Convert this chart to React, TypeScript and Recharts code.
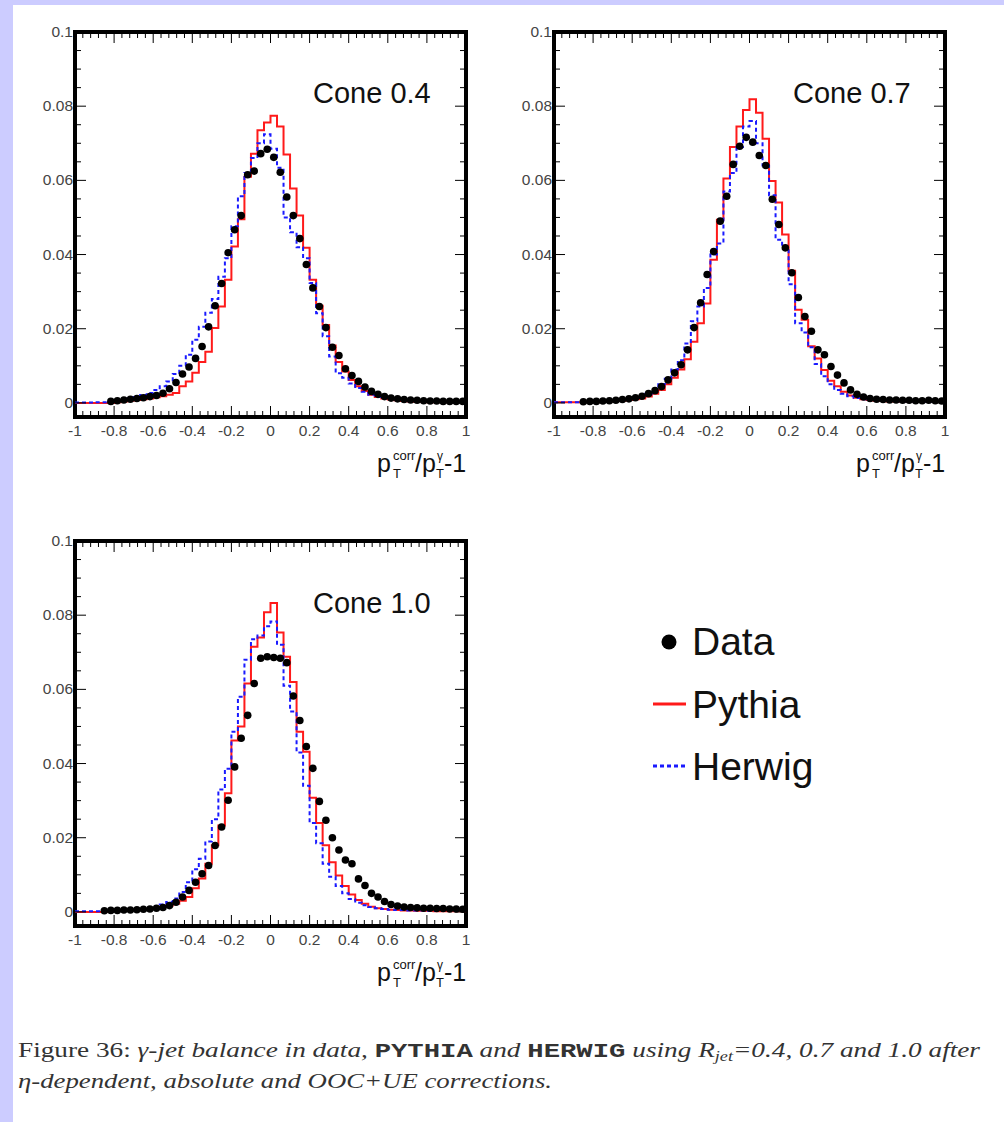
import React from 'react';
import { ComposedChart, Line, Scatter, XAxis, YAxis, ReferenceArea } from 'recharts';

// ---- binning: 60 bins between -1 and 1 ----
const X_MIN = -1;
const X_MAX = 1;
const N_BINS = 60;
const Y_MIN = -0.0038;
const Y_MAX = 0.1;

// tick labels
const X_MAJOR = [-1, -0.8, -0.6, -0.4, -0.2, 0, 0.2, 0.4, 0.6, 0.8, 1];
const X_LABELS = ['-1', '-0.8', '-0.6', '-0.4', '-0.2', '0', '0.2', '0.4', '0.6', '0.8', '1'];
const Y_MAJOR = [0, 0.02, 0.04, 0.06, 0.08, 0.1];
const Y_LABELS = ['0', '0.02', '0.04', '0.06', '0.08', '0.1'];
const X_MINOR_STEP = 0.04;
const Y_MINOR_STEP = 0.005;

const CONES = ['Cone 0.4', 'Cone 0.7', 'Cone 1.0'];

// ---- Cone 0.4 ----
const DATA_04 = [null, null, null, null, null,
  0.0004, 0.0006, 0.0008, 0.0010, 0.0012,
  0.0014, 0.0017, 0.0020, 0.0026, 0.0038,
  0.0055, 0.0078, 0.0097, 0.0120, 0.0152,
  0.0205, 0.0262, 0.0322, 0.0405, 0.0467,
  0.0505, 0.0615, 0.0625, 0.0672, 0.0684,
  0.0662, 0.0622, 0.0555, 0.0505, 0.0443,
  0.0373, 0.0310, 0.0260, 0.0203, 0.0150,
  0.0128, 0.0092, 0.0074, 0.0058, 0.0043,
  0.0031, 0.0023, 0.0017, 0.0013, 0.0011,
  0.0009, 0.0008, 0.0007, 0.0006, 0.0005,
  0.0005, 0.0004, 0.0004, 0.0004, 0.0004];
const PYTHIA_04 = [0, 0, 0, 0, 0, 0,
  0.0002, 0.0004, 0.0006, 0.0008,
  0.0010, 0.0012, 0.0015, 0.0018, 0.0022,
  0.0027, 0.0045, 0.0058, 0.0081, 0.0110,
  0.0138, 0.0202, 0.0260, 0.0332, 0.0422,
  0.0495, 0.0610, 0.0672, 0.0735, 0.0756,
  0.0774, 0.0745, 0.0670, 0.0578, 0.0505,
  0.0418, 0.0332, 0.0262, 0.0210, 0.0155,
  0.0110, 0.0085, 0.0062, 0.0045, 0.0032,
  0.0022, 0.0016, 0.0012, 0.0009, 0.0007,
  0.0005, 0.0004, 0.0003, 0.0003, 0.0002,
  0.0002, 0.0002, 0.0002, 0.0002, 0.0002];
const HERWIG_04 = [0.0001, 0.0001, 0.0001, 0.0002, 0.0002,
  0.0004, 0.0006, 0.0009, 0.0012, 0.0016,
  0.0021, 0.0027, 0.0035, 0.0045, 0.0058,
  0.0078, 0.0100, 0.0130, 0.0170, 0.0205,
  0.0243, 0.0280, 0.0340, 0.0390, 0.0476,
  0.0557, 0.0620, 0.0660, 0.0700, 0.0724,
  0.0685, 0.0634, 0.0500, 0.0460, 0.0420,
  0.0390, 0.0323, 0.0242, 0.0180, 0.0125,
  0.0080, 0.0068, 0.0052, 0.0040, 0.0030,
  0.0022, 0.0016, 0.0012, 0.0009, 0.0007,
  0.0005, 0.0004, 0.0004, 0.0003, 0.0003,
  0.0003, 0.0002, 0.0002, 0.0002, 0.0002];

// ---- Cone 0.7 ----
const DATA_07 = [null, null, null, null, 0.0003,
  0.0004, 0.0004, 0.0005, 0.0006, 0.0007,
  0.0009, 0.0011, 0.0014, 0.0018, 0.0025,
  0.0033, 0.0044, 0.0062, 0.0081, 0.0103,
  0.0143, 0.0203, 0.0270, 0.0346, 0.0408,
  0.0490, 0.0557, 0.0643, 0.0692, 0.0716,
  0.0703, 0.0667, 0.0640, 0.0549, 0.0481,
  0.0418, 0.0351, 0.0284, 0.0233, 0.0193,
  0.0143, 0.0130, 0.0098, 0.0075, 0.0054,
  0.0035, 0.0023, 0.0016, 0.0012, 0.0010,
  0.0009, 0.0008, 0.0008, 0.0007, 0.0007,
  0.0006, 0.0006, 0.0007, 0.0006, 0.0005];
const PYTHIA_07 = [0.0002, 0.0002, 0.0002, 0.0002, 0.0002,
  0.0002, 0.0002, 0.0003, 0.0004, 0.0005,
  0.0006, 0.0008, 0.0010, 0.0012, 0.0017,
  0.0025, 0.0035, 0.0050, 0.0068, 0.0090,
  0.0118, 0.0165, 0.0215, 0.0268, 0.0386,
  0.0494, 0.0605, 0.0690, 0.0745, 0.0790,
  0.0819, 0.0782, 0.0712, 0.0598, 0.0540,
  0.0454, 0.0356, 0.0251, 0.0224, 0.0153,
  0.0120, 0.0089, 0.0060, 0.0045, 0.0030,
  0.0020, 0.0014, 0.0010, 0.0008, 0.0006,
  0.0005, 0.0004, 0.0004, 0.0003, 0.0003,
  0.0003, 0.0003, 0.0003, 0.0003, 0.0003];
const HERWIG_07 = [0.0002, 0.0002, 0.0002, 0.0002, 0.0002,
  0.0003, 0.0003, 0.0004, 0.0005, 0.0007,
  0.0009, 0.0011, 0.0014, 0.0018, 0.0025,
  0.0035, 0.0050, 0.0065, 0.0090, 0.0115,
  0.0160, 0.0220, 0.0260, 0.0310, 0.0400,
  0.0430, 0.0570, 0.0620, 0.0690, 0.0745,
  0.0760, 0.0700, 0.0640, 0.0560, 0.0440,
  0.0420, 0.0320, 0.0215, 0.0190, 0.0150,
  0.0105, 0.0072, 0.0050, 0.0035, 0.0025,
  0.0018, 0.0013, 0.0010, 0.0008, 0.0007,
  0.0006, 0.0005, 0.0005, 0.0004, 0.0004,
  0.0004, 0.0003, 0.0003, 0.0003, 0.0003];

// ---- Cone 1.0 ----
const DATA_10 = [null, null, null, null, 0.0003,
  0.0004, 0.0004, 0.0005, 0.0005, 0.0006,
  0.0007, 0.0008, 0.0010, 0.0012, 0.0017,
  0.0026, 0.0040, 0.0058, 0.0080, 0.0103,
  0.0125, 0.0179, 0.0229, 0.0301, 0.0391,
  0.0468, 0.0530, 0.0616, 0.0684, 0.0688,
  0.0686, 0.0684, 0.0672, 0.0582, 0.0516,
  0.0446, 0.0387, 0.0298, 0.0247, 0.0200,
  0.0167, 0.0140, 0.0130, 0.0089, 0.0071,
  0.0050, 0.0040, 0.0028, 0.0020, 0.0016,
  0.0013, 0.0012, 0.0011, 0.0010, 0.0010,
  0.0009, 0.0009, 0.0008, 0.0008, 0.0007];
const PYTHIA_10 = [0, 0, 0, 0, 0,
  0.0002, 0.0003, 0.0004, 0.0005, 0.0006,
  0.0007, 0.0008, 0.0010, 0.0013, 0.0017,
  0.0022, 0.0030, 0.0040, 0.0064, 0.0090,
  0.0130, 0.0180, 0.0233, 0.0320, 0.0462,
  0.0500, 0.0616, 0.0715, 0.0740, 0.0808,
  0.0833, 0.0753, 0.0688, 0.0620, 0.0486,
  0.0432, 0.0308, 0.0240, 0.0180, 0.0134,
  0.0098, 0.0070, 0.0047, 0.0032, 0.0022,
  0.0014, 0.0010, 0.0008, 0.0006, 0.0005,
  0.0004, 0.0004, 0.0003, 0.0003, 0.0003,
  0.0002, 0.0002, 0.0002, 0.0002, 0.0002];
const HERWIG_10 = [0.0002, 0.0002, 0.0002, 0.0002, 0.0002,
  0.0002, 0.0003, 0.0004, 0.0005, 0.0006,
  0.0008, 0.0011, 0.0015, 0.0020, 0.0027,
  0.0036, 0.0054, 0.0080, 0.0115, 0.0143,
  0.0190, 0.0250, 0.0330, 0.0386, 0.0486,
  0.0580, 0.0680, 0.0735, 0.0745, 0.0770,
  0.0783, 0.0720, 0.0610, 0.0540, 0.0430,
  0.0340, 0.0240, 0.0185, 0.0130, 0.0095,
  0.0070, 0.0050, 0.0035, 0.0025, 0.0018,
  0.0013, 0.0010, 0.0008, 0.0006, 0.0005,
  0.0005, 0.0004, 0.0004, 0.0004, 0.0003,
  0.0003, 0.0003, 0.0003, 0.0003, 0.0003];

// ---- helpers (build library tables from the arrays) ----
const BIN_W = (X_MAX - X_MIN) / N_BINS;
const histTable = (vals: number[]) => {
  const rows = vals.map((v, i) => ({ x: X_MIN + i * BIN_W, y: v }));
  rows.push({ x: X_MAX, y: vals[vals.length - 1] });
  return rows;
};
const pointTable = (vals: (number | null)[]) =>
  vals
    .map((v, i) => ({ x: X_MIN + (i + 0.5) * BIN_W, y: v }))
    .filter((r) => r.y !== null);

const X_TICKS: number[] = [];
for (let i = 0; i <= Math.round((X_MAX - X_MIN) / X_MINOR_STEP); i++) X_TICKS.push(X_MIN + i * X_MINOR_STEP);
const Y_TICKS: number[] = [];
for (let i = 0; i <= Math.round(Y_MAX / Y_MINOR_STEP); i++) Y_TICKS.push(i * Y_MINOR_STEP);

const SANS = 'Liberation Sans, Arial, Helvetica, sans-serif';
const CHART_W = 480;
const CHART_H = 490;
const AXIS_T = 1; // axis band thickness (axes with 0 size are not drawn)
const MARGIN = { top: 32, left: 75 - AXIS_T, right: 14, bottom: 73 - AXIS_T };
const PLOT_W = CHART_W - MARGIN.left - AXIS_T - MARGIN.right;
const PLOT_H = CHART_H - MARGIN.top - MARGIN.bottom - AXIS_T;

const XTick = (props: any) => {
  const { x, y, payload } = props;
  const idx = X_MAJOR.findIndex((m) => Math.abs(m - payload.value) < 1e-6);
  const major = idx >= 0;
  const len = major ? 11 : 6;
  return (
    <g>
      <line x1={x} x2={x} y1={y} y2={y - len} stroke="#000" strokeWidth={1} />
      <line x1={x} x2={x} y1={y - PLOT_H} y2={y - PLOT_H + len} stroke="#000" strokeWidth={1} />
      {major && (
        <text x={x} y={y + 19} textAnchor="middle" fontSize={15.5} fill="#444" fontFamily={SANS}>
          {X_LABELS[idx]}
        </text>
      )}
    </g>
  );
};

const YTick = (props: any) => {
  const { x, y, payload } = props;
  const idx = Y_MAJOR.findIndex((m) => Math.abs(m - payload.value) < 1e-7);
  const major = idx >= 0;
  const len = major ? 11 : 6;
  return (
    <g>
      <line x1={x} x2={x + len} y1={y} y2={y} stroke="#000" strokeWidth={1} />
      <line x1={x + PLOT_W} x2={x + PLOT_W - len} y1={y} y2={y} stroke="#000" strokeWidth={1} />
      {major && (
        <text x={x - 2} y={y + 5} textAnchor="end" fontSize={15.5} fill="#444" fontFamily={SANS}>
          {Y_LABELS[idx]}
        </text>
      )}
    </g>
  );
};

const Dot = (props: any) => <circle cx={props.cx} cy={props.cy} r={3.8} fill="#000" />;

type PanelProps = { left: number; top: number; data: (number | null)[]; pythia: number[]; herwig: number[] };

const Panel = ({ left, top, data, pythia, herwig }: PanelProps) => (
  <div style={{ position: 'absolute', left, top, width: CHART_W, height: CHART_H }}>
    <ComposedChart width={CHART_W} height={CHART_H} margin={MARGIN}>
      <XAxis
        type="number"
        dataKey="x"
        domain={[X_MIN, X_MAX]}
        allowDataOverflow
        ticks={X_TICKS}
        interval={0}
        tickSize={0}
        tickMargin={0}
        height={AXIS_T}
        axisLine={false}
        tickLine={false}
        tick={<XTick />}
      />
      <YAxis
        type="number"
        domain={[Y_MIN, Y_MAX]}
        allowDataOverflow
        ticks={Y_TICKS}
        interval={0}
        tickSize={0}
        tickMargin={0}
        width={AXIS_T}
        axisLine={false}
        tickLine={false}
        tick={<YTick />}
      />
      <Line
        data={histTable(pythia)}
        dataKey="y"
        type="stepAfter"
        stroke="#ff1a1a"
        strokeWidth={2}
        dot={false}
        activeDot={false}
        isAnimationActive={false}
      />
      <Line
        data={histTable(herwig)}
        dataKey="y"
        type="stepAfter"
        stroke="#1a1aff"
        strokeWidth={2}
        strokeDasharray="4 3"
        dot={false}
        activeDot={false}
        isAnimationActive={false}
      />
      <Scatter data={pointTable(data)} dataKey="y" fill="#000" shape={<Dot />} isAnimationActive={false} />
      <ReferenceArea
        x1={X_MIN}
        x2={X_MAX}
        y1={Y_MIN}
        y2={Y_MAX}
        fill="none"
        fillOpacity={0}
        stroke="#000"
        strokeWidth={4}
        ifOverflow="visible"
      />
    </ComposedChart>
  </div>
);

const AxisTitle = ({ dx, dy }: { dx: number; dy: number }) => (
  <g fontFamily={SANS} fill="#111" transform={`translate(${dx},${dy})`}>
    <text x={377} y={472} fontSize={25}>p</text>
    <text x={393} y={460} fontSize={13}>corr</text>
    <text x={393} y={478} fontSize={13}>T</text>
    <text x={415} y={472} fontSize={25}>/p</text>
    <text x={437} y={460} fontSize={12}>γ</text>
    <text x={436} y={478} fontSize={13}>T</text>
    <text x={444} y={472} fontSize={25}>-1</text>
  </g>
);

export default function App() {
  return (
    <div
      style={{
        position: 'absolute',
        left: 0,
        top: 0,
        width: 1004,
        height: 1122,
        background: '#ccccff',
        overflow: 'hidden',
      }}
    >
      <div style={{ position: 'absolute', left: 13, top: 5, width: 991, height: 1117, background: '#fff' }} />
      <Panel left={0} top={0} data={DATA_04} pythia={PYTHIA_04} herwig={HERWIG_04} />
      <Panel left={479} top={0} data={DATA_07} pythia={PYTHIA_07} herwig={HERWIG_07} />
      <Panel left={0} top={509} data={DATA_10} pythia={PYTHIA_10} herwig={HERWIG_10} />
      <svg
        width={1004}
        height={1122}
        style={{ position: 'absolute', left: 0, top: 0, pointerEvents: 'none' }}
      >
        <text x={313} y={103} fontSize={29} fontFamily={SANS} fill="#111">{CONES[0]}</text>
        <text x={793} y={103} fontSize={29} fontFamily={SANS} fill="#111">{CONES[1]}</text>
        <text x={313} y={613} fontSize={29} fontFamily={SANS} fill="#111">{CONES[2]}</text>
        <AxisTitle dx={0} dy={0} />
        <AxisTitle dx={479} dy={0} />
        <AxisTitle dx={0} dy={509} />
        {/* legend */}
        <circle cx={669} cy={642} r={7.5} fill="#000" />
        <text x={692} y={655} fontSize={39} fontFamily={SANS} fill="#111">Data</text>
        <line x1={653} x2={686} y1={704} y2={704} stroke="#ff1a1a" strokeWidth={3} />
        <text x={692} y={718} fontSize={39} fontFamily={SANS} fill="#111">Pythia</text>
        <line x1={653} x2={686} y1={766} y2={766} stroke="#1a1aff" strokeWidth={3} strokeDasharray="4 3" />
        <text x={692} y={780} fontSize={39} fontFamily={SANS} fill="#111">Herwig</text>
        {/* caption */}
        <text
          x={18}
          y={1057}
          fontSize={21}
          fill="#333"
          fontFamily="Liberation Serif, serif"
          textLength={962}
          lengthAdjust="spacingAndGlyphs"
        >
          <tspan>{'Figure 36: '}</tspan>
          <tspan fontStyle="italic">{'γ-jet balance in data, '}</tspan>
          <tspan fontFamily="Liberation Mono, monospace" fontWeight="bold">{'PYTHIA'}</tspan>
          <tspan fontStyle="italic">{' and '}</tspan>
          <tspan fontFamily="Liberation Mono, monospace" fontWeight="bold">{'HERWIG'}</tspan>
          <tspan fontStyle="italic">{' using R'}</tspan>
          <tspan fontStyle="italic" fontSize={14} dy={4}>{'jet'}</tspan>
          <tspan fontStyle="italic" dy={-4}>{'=0.4, 0.7 and 1.0 after'}</tspan>
        </text>
        <text
          x={18}
          y={1088}
          fontSize={21}
          fill="#333"
          fontFamily="Liberation Serif, serif"
          fontStyle="italic"
          textLength={534}
          lengthAdjust="spacingAndGlyphs"
        >
          {'η-dependent, absolute and OOC+UE corrections.'}
        </text>
      </svg>
    </div>
  );
}
